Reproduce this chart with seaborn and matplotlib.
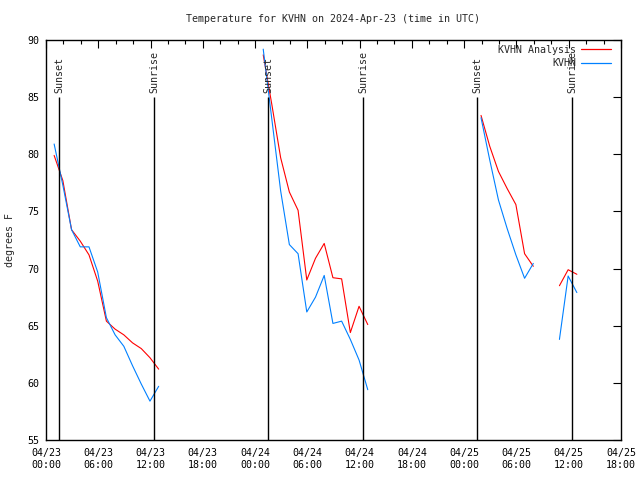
import matplotlib
matplotlib.use("Agg")
import matplotlib.pyplot as plt
import matplotlib.dates as mdates
import seaborn as sns
import pandas as pd

# ---- data ----
times = [
    "2024-04-23 00:56", "2024-04-23 01:56", "2024-04-23 02:56", "2024-04-23 03:56",
    "2024-04-23 04:56", "2024-04-23 05:56", "2024-04-23 06:56", "2024-04-23 07:56",
    "2024-04-23 08:56", "2024-04-23 09:56", "2024-04-23 10:56", "2024-04-23 11:56",
    "2024-04-23 12:56",
    "2024-04-24 00:56", "2024-04-24 01:56", "2024-04-24 02:56", "2024-04-24 03:56",
    "2024-04-24 04:56", "2024-04-24 05:56", "2024-04-24 06:56", "2024-04-24 07:56",
    "2024-04-24 08:56", "2024-04-24 09:56", "2024-04-24 10:56", "2024-04-24 11:56",
    "2024-04-24 12:56",
    "2024-04-25 01:56", "2024-04-25 02:56", "2024-04-25 03:56", "2024-04-25 04:56",
    "2024-04-25 05:56", "2024-04-25 06:56", "2024-04-25 07:56",
    "2024-04-25 10:56", "2024-04-25 11:56", "2024-04-25 12:56",
]
segment = [1] * 13 + [2] * 13 + [3] * 7 + [4] * 3

kvhn_analysis = [
    79.9, 77.7, 73.4, 72.4, 71.2, 68.9, 65.4, 64.7, 64.2, 63.5, 63.0, 62.2, 61.2,
    88.7, 84.3, 79.7, 76.7, 75.1, 69.0, 70.9, 72.2, 69.2, 69.1, 64.4, 66.7, 65.1,
    83.4, 80.7, 78.5, 77.0, 75.6, 71.3, 70.2,
    68.5, 69.9, 69.5,
]
kvhn_obs = [
    80.9, 77.3, 73.4, 71.9, 71.9, 69.7, 65.7, 64.2, 63.2, 61.5, 59.9, 58.4, 59.7,
    89.2, 83.0, 76.8, 72.1, 71.3, 66.2, 67.5, 69.4, 65.2, 65.4, 63.8, 62.0, 59.4,
    83.2, 79.5, 76.0, 73.5, 71.2, 69.15, 70.45,
    63.8, 69.35, 67.9,
]

sunset_times = ["2024-04-23 01:32", "2024-04-24 01:31", "2024-04-25 01:31"]
sunrise_times = ["2024-04-23 12:26", "2024-04-24 12:25", "2024-04-25 12:24"]

series_names = ["KVHN Analysis", "KVHN"]
colors = {"KVHN Analysis": "#ff0000", "KVHN": "#0080ff"}

title = "Temperature for KVHN on 2024-Apr-23 (time in UTC)"

# ---- build long table ----
t = pd.to_datetime(times)
df = pd.concat([
    pd.DataFrame({"time": t, "temp": kvhn_analysis, "series": series_names[0], "segment": segment}),
    pd.DataFrame({"time": t, "temp": kvhn_obs, "series": series_names[1], "segment": segment}),
], ignore_index=True)

sns.set_style("white")
plt.rcParams["font.family"] = ["DejaVu Sans Mono"]
FS = 7.2
plt.rcParams["font.size"] = FS

fig = plt.figure(figsize=(6.4, 4.8), dpi=100)
ax = fig.add_axes([46 / 640, 40 / 480, 575 / 640, 400 / 480])

sns.lineplot(data=df, x="time", y="temp", hue="series", units="segment",
             estimator=None, palette=colors, hue_order=series_names,
             linewidth=0.8, ax=ax)

for s in pd.to_datetime(sunset_times):
    ax.vlines(s, 55, 85, color="black", lw=1.0)
    ax.text(s, 85.35, "Sunset", rotation=90, ha="center", va="bottom", fontsize=FS)
for s in pd.to_datetime(sunrise_times):
    ax.vlines(s, 55, 85, color="black", lw=1.0)
    ax.text(s, 85.35, "Sunrise", rotation=90, ha="center", va="bottom", fontsize=FS)

ax.set_xlim(pd.Timestamp("2024-04-23 00:00"), pd.Timestamp("2024-04-25 18:00"))
ax.set_ylim(55, 90)
ax.set_yticks([55, 60, 65, 70, 75, 80, 85, 90])
ax.xaxis.set_major_locator(mdates.HourLocator(byhour=[0, 6, 12, 18]))
ax.xaxis.set_minor_locator(mdates.HourLocator(byhour=list(range(0, 24, 2))))
ax.xaxis.set_major_formatter(mdates.DateFormatter("%m/%d\n%H:%M"))

ax.tick_params(axis="both", which="both", direction="in", top=True, right=True,
               colors="black", labelsize=FS, width=0.8)
ax.tick_params(axis="both", which="major", length=6)
ax.tick_params(axis="x", which="minor", length=3)
ax.tick_params(axis="x", which="major", pad=6)
ax.tick_params(axis="y", which="major", pad=5)
for sp in ax.spines.values():
    sp.set_color("black")
    sp.set_linewidth(1.0)

ax.set_xlabel("")
ax.set_ylabel("degrees F", fontsize=FS, labelpad=9)
ax.set_title(title, fontsize=FS, pad=13)

handles, labels = ax.get_legend_handles_labels()
leg = ax.legend(handles, labels, loc="upper right", frameon=False, markerfirst=False,
                fontsize=FS, handlelength=3.0, handletextpad=0.5, labelspacing=0.32,
                borderpad=0, borderaxespad=0,
                bbox_to_anchor=((611 - 46) / 575, 1 - 5 / 400))
for h in leg.legend_handles:
    h.set_linewidth(0.9)

fig.savefig("out.png", dpi=100)
